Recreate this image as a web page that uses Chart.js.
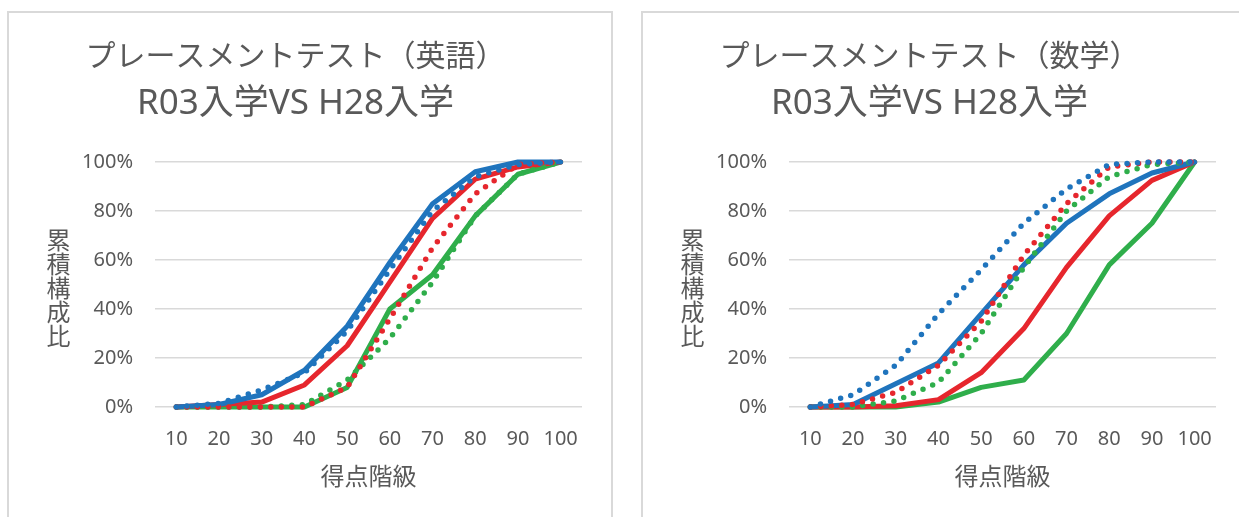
<!DOCTYPE html>
<html lang="ja">
<head>
<meta charset="utf-8">
<title>プレースメントテスト 累積構成比</title>
<script src="https://cdn.jsdelivr.net/npm/chart.js@4.4.1/dist/chart.umd.min.js"></script>
<style>
  html, body { margin: 0; padding: 0; background: #fff; overflow: hidden; }
  body { width: 1239px; height: 517px; position: relative; }
  .panel {
    position: absolute;
    top: 11px;
    width: 606px;
    height: 530px;
    box-sizing: border-box;
    border: 2px solid #d9d9d9;
  }
  .plot { position: absolute; left: 0; top: 0; width: 601px; height: 504px; }
</style>
</head>
<body>
<div class="panel" style="left:7px"><div class="plot"><canvas id="english"></canvas></div></div>
<div class="panel" style="left:641px"><div class="plot"><canvas id="math"></canvas></div></div>

<script>
const scoreBands = ['10', '20', '30', '40', '50', '60', '70', '80', '90', '100'];
const percentTicks = [0, 20, 40, 60, 80, 100];

// 英語 (累積構成比 %)
const engBlueR03 = [0, 1, 5, 15, 33, 59, 83, 96, 100, 100];
const engRedR03 = [0, 1, 2, 9, 25, 51, 77, 93, 98, 100];
const engGreenR03 = [0, 0, 0, 0, 8, 40, 54, 78, 95, 100];
const engBlueH28 = [0, 1.5, 7, 14, 31, 56, 80, 94, 99, 100];
const engRedH28 = [0, 0, 0, 0, 8, 36, 65, 87, 99, 100];
const engGreenH28 = [0, 0, 0, 1, 11, 28, 51, 78, 95, 100];

// 数学 (累積構成比 %)
const mathBlueR03 = [0, 1, 9.5, 18, 38, 58, 75, 87, 95.5, 100];
const mathRedR03 = [0, 0, 0.5, 3, 14, 32, 57, 78, 92.5, 100];
const mathGreenR03 = [0, 0, 0, 2, 8, 11, 30, 58, 75, 100];
const mathBlueH28 = [0, 5, 17, 38, 56, 75, 89, 99, 100, 100];
const mathRedH28 = [0, 1, 6, 17, 35, 62, 83, 98, 100, 100];
const mathGreenH28 = [0, 0, 2.5, 10, 30, 57, 80, 94, 99, 100];

const BLUE = '#1f74bd';
const RED = '#e6262d';
const GREEN = '#2fae4b';
const TEXT = '#595959';
const CJK = "'Noto Sans CJK JP', sans-serif";

Chart.defaults.font.family = "'Noto Sans', 'Noto Sans CJK JP', sans-serif";
Chart.defaults.color = TEXT;

// y axis caption written top-to-bottom, one character per row
const stackedYTitle = {
  id: 'stackedYTitle',
  afterDraw(chart, args, opts) {
    const { ctx, chartArea } = chart;
    const chars = Array.from(opts.text);
    const mid = (chartArea.top + chartArea.bottom) / 2 + opts.shiftY;
    ctx.save();
    ctx.font = opts.size + 'px ' + CJK;
    ctx.fillStyle = TEXT;
    ctx.textAlign = 'center';
    ctx.textBaseline = 'middle';
    chars.forEach((c, i) => {
      ctx.fillText(c, opts.x, mid + (i - (chars.length - 1) / 2) * opts.step);
    });
    ctx.restore();
  }
};

function line(label, data, color, dotted) {
  return {
    label: label,
    data: data,
    borderColor: color,
    backgroundColor: color,
    borderWidth: dotted ? 5.5 : 5,
    borderDash: dotted ? [0, 10.5] : [],
    borderCapStyle: 'round',
    borderJoinStyle: 'round',
    pointRadius: 0,
    pointHoverRadius: 0,
    tension: 0,
    fill: false,
    clip: false
  };
}

function drawChart(id, heading, r03, h28) {
  const ctx = document.getElementById(id).getContext('2d');
  return new Chart(ctx, {
    type: 'line',
    data: {
      labels: scoreBands,
      // dotted H28 lines come first so they are painted over the solid ones
      datasets: [
        line('H28 青', h28[0], BLUE, true),
        line('H28 赤', h28[1], RED, true),
        line('H28 緑', h28[2], GREEN, true),
        line('R03 青', r03[0], BLUE, false),
        line('R03 赤', r03[1], RED, false),
        line('R03 緑', r03[2], GREEN, false)
      ]
    },
    options: {
      responsive: true,
      maintainAspectRatio: false,
      animation: false,
      events: [],
      layout: { padding: { left: 0, right: 28, top: 0, bottom: 0 } },
      plugins: {
        legend: { display: false },
        tooltip: { enabled: false },
        title: {
          display: true,
          text: heading,
          color: TEXT,
          font: { family: CJK, size: 30, weight: 'normal', lineHeight: 1.2 },
          padding: { top: 24, bottom: 0 }
        },
        subtitle: {
          display: true,
          text: 'R03入学VS H28入学',
          color: TEXT,
          font: { size: 35, weight: 'normal', lineHeight: 1.2 },
          padding: { top: 10, bottom: 37 }
        },
        stackedYTitle: { text: '累積構成比', x: 49.5, size: 24, step: 24, shiftY: 3 }
      },
      scales: {
        x: {
          offset: true,
          grid: { display: false, drawTicks: false },
          border: { display: false },
          ticks: { autoSkip: false, maxRotation: 0, padding: 20, font: { size: 20 } },
          title: {
            display: true,
            text: '得点階級',
            font: { family: CJK, size: 24 },
            padding: { top: 0, bottom: 26.6 }
          },
          afterFit: (s) => { s.height = 110; }
        },
        y: {
          min: 0,
          max: 100,
          grid: { color: '#d9d9d9', lineWidth: 1.5, drawTicks: false },
          border: { display: false },
          ticks: {
            padding: 22,
            font: { size: 20 },
            callback: (v) => v + '%'
          },
          afterBuildTicks: (s) => { s.ticks = percentTicks.map((v) => ({ value: v })); },
          afterFit: (s) => { s.width = 146; }
        }
      }
    },
    plugins: [stackedYTitle]
  });
}

drawChart('english', 'プレースメントテスト（英語）',
  [engBlueR03, engRedR03, engGreenR03], [engBlueH28, engRedH28, engGreenH28]);
drawChart('math', 'プレースメントテスト（数学）',
  [mathBlueR03, mathRedR03, mathGreenR03], [mathBlueH28, mathRedH28, mathGreenH28]);
</script>
</body>
</html>
